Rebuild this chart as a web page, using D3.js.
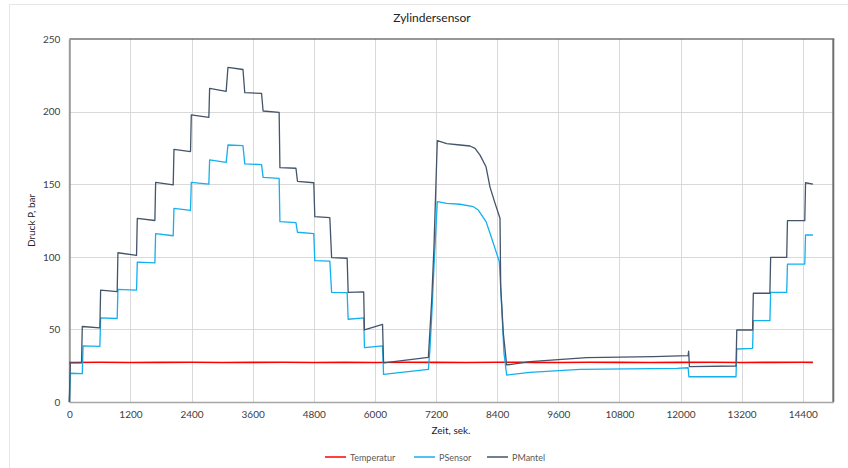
<!DOCTYPE html>
<html>
<head>
<meta charset="utf-8">
<script src="https://cdn.jsdelivr.net/npm/d3@7"></script>
<style>
  html, body { margin: 0; padding: 0; background: #fff; }
  svg { display: block; font-family: Lato, "Open Sans", sans-serif; }
</style>
</head>
<body>
<svg id="chart" width="848" height="468"></svg>
<script>
// ---------- data ----------
const chartTitle = "Zylindersensor";
const xAxisTitle = "Zeit, sek.";
const yAxisTitle = "Druck P, bar";
const seriesNames = ["Temperatur", "PSensor", "PMantel"];
const seriesColors = ["#ff0000", "#12b0ee", "#44546a"];

const xTicks = [0, 1200, 2400, 3600, 4800, 6000, 7200, 8400, 9600, 10800, 12000, 13200, 14400];
const yTicks = [0, 50, 100, 150, 200, 250];

const tempTime  = [0, 600, 1200, 1800, 2400, 3000, 3600, 4200, 4800, 5400, 6000, 6600, 7200, 7800, 8400, 9000, 9600, 10200, 10800, 11400, 12000, 12600, 13200, 13800, 14400, 14600];
const tempValue = [27.2, 27.4, 27.2, 27.3, 27.4, 27.2, 27.3, 27.4, 27.2, 27.3, 27.2, 27.4, 27.3, 27.2, 27.4, 27.3, 27.2, 27.4, 27.3, 27.2, 27.3, 27.4, 27.2, 27.3, 27.4, 27.3];

const sensorTime  = [0, 20, 255, 270, 600, 615, 940, 955, 1320, 1335, 1680, 1695, 2040, 2055, 2380, 2395, 2740, 2755, 3080, 3115, 3410, 3445, 3775, 3805, 4120, 4135, 4450, 4480, 4800, 4820, 5115, 5150, 5455, 5475, 5780, 5795, 6150, 6170, 7050, 7080, 7115, 7160, 7225, 7410, 7671, 7933, 8030, 8182, 8260, 8358, 8443, 8489, 8535, 8587, 9045, 10027, 11925, 12150, 12165, 13090, 13105, 13415, 13430, 13755, 13770, 14085, 14100, 14440, 14455, 14600];
const sensorValue = [0, 19.8, 19.5, 38.6, 38.3, 58, 57.5, 77.6, 77, 96.4, 95.8, 115.9, 114.5, 133.4, 132, 151.3, 150, 166.7, 165, 177, 176.5, 164, 163.5, 154.7, 154, 124.2, 123.5, 116.9, 116, 97.3, 97, 75.5, 75.3, 57, 58, 37.4, 38.7, 19, 22.5, 35.8, 58.8, 93, 138, 136.8, 136.2, 134.5, 132.2, 124.2, 116.2, 105.8, 96.6, 65.6, 33.5, 18.6, 20.4, 22.5, 23.2, 23.6, 17.4, 17.4, 36.5, 37, 56, 56, 75.5, 75.5, 95, 95, 115, 115];

const mantelTime  = [0, 20, 240, 255, 600, 615, 940, 955, 1320, 1335, 1680, 1695, 2040, 2055, 2380, 2395, 2740, 2755, 3080, 3115, 3410, 3445, 3775, 3805, 4120, 4135, 4450, 4480, 4800, 4820, 5115, 5150, 5455, 5475, 5780, 5795, 6150, 6170, 7050, 7115, 7160, 7225, 7410, 7671, 7867, 7966, 8064, 8182, 8260, 8358, 8456, 8470, 8521, 8587, 9045, 10158, 11467, 12150, 12160, 12175, 13090, 13105, 13415, 13430, 13755, 13770, 14085, 14100, 14440, 14455, 14600];
const mantelValue = [0, 27, 27, 52, 51, 77, 76, 102.8, 101, 126.4, 125, 151.3, 149.5, 174, 172.5, 197.7, 196, 216, 214, 230.5, 229, 213, 212.5, 200.4, 199.5, 161.4, 161, 152, 151, 127.6, 127, 99.5, 99, 75.5, 75.8, 49.6, 53.5, 27, 30.8, 70, 107, 180, 178, 177, 176.3, 174.7, 170, 162, 148, 137, 126.5, 79.4, 47.5, 25.5, 27.8, 30.5, 31.2, 31.9, 35, 24.3, 24.8, 49.6, 49.6, 74.9, 74.9, 99.6, 99.6, 124.9, 124.9, 151, 150];

// ---------- layout ----------
const svg = d3.select("#chart");
const plot = { left: 69.3, right: 833.3, top: 39, bottom: 402 };

const x = d3.scaleLinear().domain([0, 15000]).range([plot.left, plot.right]);
const y = d3.scaleLinear().domain([0, 250]).range([plot.bottom, plot.top]);

// outer chart border (light)
svg.append("rect")
  .attr("x", 9.5).attr("y", 4.5).attr("width", 860).attr("height", 480)
  .attr("fill", "none").attr("stroke", "#e6e6e6").attr("stroke-width", 1);

// gridlines
svg.append("g").selectAll("line.v").data(xTicks.filter(d => d > 0)).join("line")
  .attr("x1", d => Math.round(x(d)) + 0.5).attr("x2", d => Math.round(x(d)) + 0.5)
  .attr("y1", plot.top).attr("y2", plot.bottom)
  .attr("stroke", "#d9d9d9").attr("stroke-width", 1);
svg.append("g").selectAll("line.h").data(yTicks.filter(d => d > 0 && d < 250)).join("line")
  .attr("x1", plot.left).attr("x2", plot.right)
  .attr("y1", d => Math.round(y(d)) + 0.5).attr("y2", d => Math.round(y(d)) + 0.5)
  .attr("stroke", "#d9d9d9").attr("stroke-width", 1);

// frame: top dark, right dark grey
svg.append("line").attr("x1", plot.left).attr("x2", plot.right + 1)
  .attr("y1", plot.top).attr("y2", plot.top).attr("stroke", "#303030").attr("stroke-width", 1.2);
svg.append("line").attr("x1", plot.right).attr("x2", plot.right)
  .attr("y1", plot.top).attr("y2", plot.bottom).attr("stroke", "#6e6e6e").attr("stroke-width", 2);

// axes via d3
const xAxis = d3.axisBottom(x).tickValues(xTicks).tickSize(0).tickPadding(9).tickFormat(d3.format("d"));
const yAxis = d3.axisLeft(y).tickValues(yTicks).tickSize(0).tickPadding(9).tickFormat(d3.format("d"));

const gx = svg.append("g").attr("transform", `translate(0,${plot.bottom})`).call(xAxis);
gx.select(".domain").attr("stroke", "#a6a6a6").attr("stroke-width", 1.5);
gx.selectAll("text").attr("fill", "#404040").style("font-size", "10px").style("font-family", "Lato, sans-serif");

const gy = svg.append("g").attr("transform", `translate(${plot.left},0)`).call(yAxis);
gy.select(".domain").attr("stroke", "#9a9a9a").attr("stroke-width", 2);
gy.selectAll("text").attr("fill", "#404040").style("font-size", "10px").style("font-family", "Lato, sans-serif");

// series
const series = [
  { t: tempTime, v: tempValue },
  { t: sensorTime, v: sensorValue },
  { t: mantelTime, v: mantelValue }
];
const line = d3.line().x(d => x(d[0])).y(d => y(d[1]));
series.forEach((s, i) => {
  const pts = s.t.map((t, k) => [t, s.v[k]]);
  svg.append("path").datum(pts)
    .attr("d", line)
    .attr("fill", "none")
    .attr("stroke", seriesColors[i])
    .attr("stroke-width", i === 0 ? 1.6 : 1.3)
    .attr("stroke-linejoin", "round");
});

// title
svg.append("text").attr("x", 432).attr("y", 22).attr("text-anchor", "middle")
  .attr("fill", "#222").style("font-size", "12px").text(chartTitle);

// axis titles
svg.append("text").attr("x", 451).attr("y", 434).attr("text-anchor", "middle")
  .attr("fill", "#222").style("font-size", "10px").text(xAxisTitle);
svg.append("text").attr("transform", `translate(35,${(plot.top + plot.bottom) / 2}) rotate(-90)`)
  .attr("text-anchor", "middle").attr("fill", "#222").style("font-size", "10px").text(yAxisTitle);

// legend
const legendX = [325, 414, 487];
const lg = svg.append("g").attr("transform", "translate(0,457)");
seriesNames.forEach((name, i) => {
  lg.append("line").attr("x1", legendX[i]).attr("x2", legendX[i] + 21)
    .attr("y1", 0).attr("y2", 0).attr("stroke", seriesColors[i]).attr("stroke-width", 1.5);
  lg.append("text").attr("x", legendX[i] + 25).attr("y", 3.5)
    .attr("fill", "#595959").style("font-size", "9px").text(name);
});
</script>
</body>
</html>
